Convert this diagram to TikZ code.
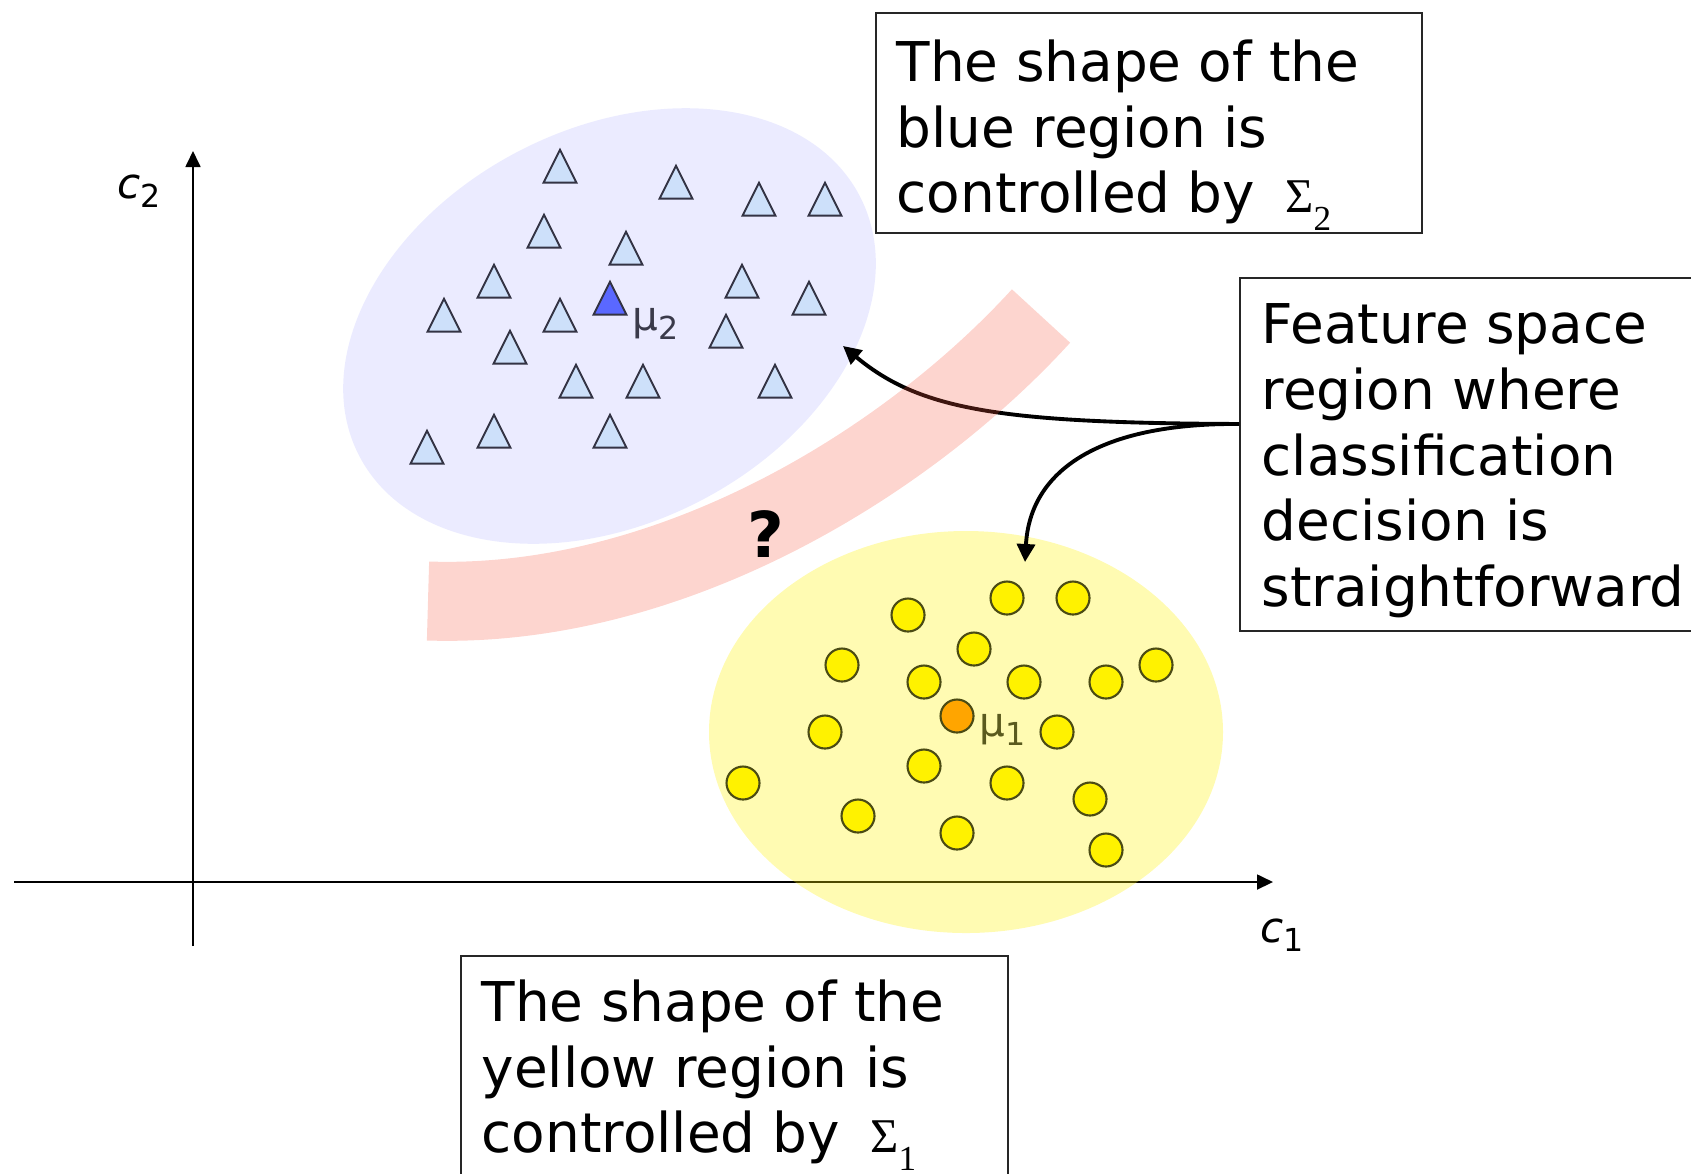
\documentclass[tikz,border=0pt]{standalone}
\usepackage{fontspec}
\setmainfont{DejaVu Sans}
\newfontfamily\sigfont{Liberation Serif}
\usepackage{xcolor}
\usepackage{tikz}
\usetikzlibrary{positioning,shapes,arrows.meta}

\definecolor{blueregion}{RGB}{235,235,255}
\definecolor{trifill}{RGB}{205,224,250}
\definecolor{triline}{RGB}{51,51,68}
\definecolor{mutwofill}{RGB}{90,104,255}
\definecolor{dotline}{RGB}{75,75,20}
\definecolor{muonefill}{RGB}{255,165,0}
\definecolor{bandred}{RGB}{247,87,63}
\definecolor{mutwotext}{RGB}{58,58,74}
\definecolor{muonetext}{RGB}{90,90,30}

\newcommand{\covsym}[1]{{\sigfont\fontsize{13.8}{16}\selectfont Σ\raisebox{-5pt}{\fontsize{10}{12}\selectfont #1}}}
\newcommand{\lowsub}[2]{\raisebox{-#1}{\fontsize{9}{10}\selectfont #2}}

\begin{document}
\begin{tikzpicture}[x=0.1mm, y=-0.1mm,
    tri/.style={isosceles triangle, isosceles triangle stretches, shape border rotate=90, minimum width=3.3mm, minimum height=3.3mm, inner sep=0pt, draw=triline, fill=trifill, line width=0.55pt, yshift=-0.55mm},
    dot/.style={circle, minimum size=3.3mm, inner sep=0pt, draw=dotline, fill=yellow, line width=0.6pt},
    textbox/.style={draw=black!85, fill=white, line width=0.55pt, inner sep=0pt},
    boxtext/.style={align=left, inner sep=0pt, anchor=north west, font=\fontsize{15.6}{18.7}\selectfont},
    mulab/.style={inner sep=0pt, anchor=base west, font=\fontsize{11.5}{13}\selectfont},
    connector/.style={-{Triangle[length=1.8mm,width=1.8mm]}, line width=1.1pt},
    axisline/.style={-{Triangle[length=1.6mm,width=1.5mm]}, line width=0.5pt}]
    \useasboundingbox (0,0) rectangle (1691,1173);

    % Μπλε περιοχή
    \fill[blueregion, rotate around={27.4:(609.5,326)}] (609.5,326) ellipse [x radius=282, y radius=197];

    % Πλαίσια κειμένου
    \node[textbox, anchor=north west, minimum width=54.6mm, minimum height=22mm] (topbox) at (875,12) {};
    \node[boxtext] (toptext) at ([xshift=2.1mm, yshift=-2.7mm]topbox.north west) {The shape of the\\blue region is\\controlled by\hspace{0.55em}\covsym{2}};
    \node[textbox, anchor=north west, minimum width=50mm, minimum height=35.3mm] (fsbox) at (1239,277) {};
    \node[boxtext] (fstext) at ([xshift=2.2mm, yshift=-2.6mm]fsbox.north west) {Feature space\\region where\\classification\\decision is\\straightforward};
    \node[textbox, anchor=north west, minimum width=54.7mm, minimum height=25mm] (botbox) at (460,955) {};
    \node[boxtext] (bottext) at ([xshift=2.1mm, yshift=-2.4mm]botbox.north west) {The shape of the\\yellow region is\\controlled by\hspace{0.55em}\covsym{1}};

    % Άξονες
    \coordinate (xstart) at (14,882);
    \coordinate (xend) at (1273,882);
    \coordinate (ystart) at (193,946);
    \coordinate (yend) at (193,151);
    \draw[axisline] (xstart) -- (xend);
    \draw[axisline] (ystart) -- (yend);
    \node[anchor=base west, inner sep=0pt, font=\fontsize{12}{14}\selectfont] (ctwo) at (117,198) {\textit{c}\lowsub{2.8pt}{2}};
    \node[anchor=base west, inner sep=0pt, font=\fontsize{12}{14}\selectfont] (cone) at (1260,942) {\textit{c}\lowsub{2.8pt}{1}};

    % Κίτρινη περιοχή
    \fill[yellow, fill opacity=0.3] (966,732) ellipse [x radius=257, y radius=201];

    % Βέλη από το πλαίσιο
    \coordinate (src) at ([yshift=3.05mm]fsbox.west);
    \coordinate (bluetip) at (843,346);
    \coordinate (yellowtip) at (1025,562);
    \draw[connector] (src) .. controls (1000,423) and (920,410) .. (bluetip);
    \draw[connector] (src) .. controls (1100,423) and (1030,470) .. (yellowtip);

    % ζώνη αβεβαιότητας
    \coordinate (bandstart) at (428,601);
    \coordinate (bandend) at (1041,316);
    \draw[bandred, draw opacity=0.25, line width=7.9mm] (bandstart) .. controls (669,609) and (906,464) .. (bandend);
    \node[font=\fontsize{18}{20}\selectfont\bfseries] (qmark) at (766,534) {?};

    % Τρίγωνα
    \node[tri] (t1) at (560,167) {};
    \node[tri] (t2) at (676,183) {};
    \node[tri] (t3) at (759,200) {};
    \node[tri] (t4) at (825,200) {};
    \node[tri] (t5) at (544,232) {};
    \node[tri] (t6) at (626,249) {};
    \node[tri] (t7) at (494,282) {};
    \node[tri] (t8) at (742,282) {};
    \node[tri] (t9) at (809,299) {};
    \node[tri] (t10) at (444,316) {};
    \node[tri] (t11) at (560,316) {};
    \node[tri, fill=mutwofill] (mutwo) at (610,299) {}; % μέσος όρος
    \node[tri] (t12) at (510,348) {};
    \node[tri] (t13) at (726,332) {};
    \node[tri] (t14) at (576,382) {};
    \node[tri] (t15) at (643,382) {};
    \node[tri] (t16) at (775,382) {};
    \node[tri] (t17) at (494,432) {};
    \node[tri] (t18) at (610,432) {};
    \node[tri] (t19) at (427,448) {};
    \node[mulab, text=mutwotext] (mutwolab) at (632,330) {μ\lowsub{2.6pt}{2}};

    % Κύκλοι
    \node[dot] (d1) at (1007,598) {};
    \node[dot] (d2) at (1073,598) {};
    \node[dot] (d3) at (908,615) {};
    \node[dot] (d4) at (974,649) {};
    \node[dot] (d5) at (842,665) {};
    \node[dot] (d6) at (1156,665) {};
    \node[dot] (d7) at (924,682) {};
    \node[dot] (d8) at (1024,682) {};
    \node[dot] (d9) at (1106,682) {};
    \node[dot, fill=muonefill] (muone) at (957,716) {}; % μέσος όρος
    \node[dot] (d10) at (825,732) {};
    \node[dot] (d11) at (1057,732) {};
    \node[dot] (d12) at (924,766) {};
    \node[dot] (d13) at (1007,783) {};
    \node[dot] (d14) at (743,783) {};
    \node[dot] (d15) at (1090,799) {};
    \node[dot] (d16) at (858,816) {};
    \node[dot] (d17) at (957,833) {};
    \node[dot] (d18) at (1106,850) {};
    \node[mulab, text=muonetext] (muonelab) at (979,736) {μ\lowsub{2.6pt}{1}};
\end{tikzpicture}
\end{document}
